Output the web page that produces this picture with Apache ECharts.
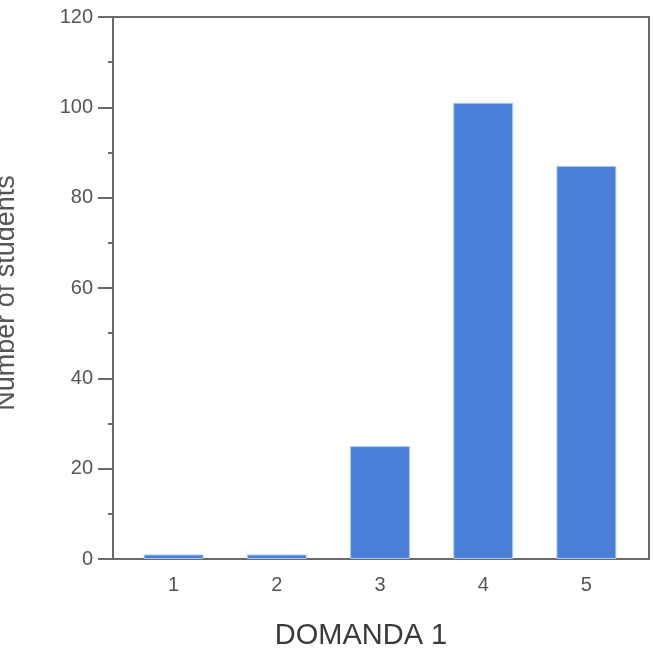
<!DOCTYPE html>
<html>
<head>
<meta charset="utf-8">
<script src="https://cdn.jsdelivr.net/npm/echarts@6/dist/echarts.min.js"></script>
<style>
  html, body { margin: 0; padding: 0; background: #fff; }
  #chart { width: 653px; height: 651px; }
</style>
</head>
<body>
<div id="chart"></div>
<script>
// categories and values
const categories = ['1', '2', '3', '4', '5']
const students = [1, 1, 25, 101, 87]
const yTicks = { min: 0, max: 120, interval: 20 }

const chart = echarts.init(document.getElementById('chart'))
chart.setOption({
  animation: false,
  textStyle: { fontFamily: 'Liberation Sans, Arial, sans-serif' },
  grid: {
    left: 122,
    right: 15,
    top: 17,
    bottom: 92,
    outerBoundsMode: 'none'
  },
  // frame round the plot (wider than the category bands)
  graphic: [
    {
      type: 'rect',
      shape: { x: 113, y: 17, width: 536, height: 542 },
      style: { fill: 'none', stroke: '#6a6a6a', lineWidth: 2 },
      silent: true
    }
  ],
  xAxis: {
    type: 'category',
    data: categories,
    name: 'DOMANDA 1',
    nameLocation: 'middle',
    nameGap: 62,
    nameTextStyle: { fontSize: 29, color: '#3a3a3a', padding: [0, 38, 0, 0] },
    axisLine: { show: false },
    axisTick: { show: false },
    axisLabel: { fontSize: 20, color: '#555', margin: 16 }
  },
  yAxis: {
    type: 'value',
    min: yTicks.min,
    max: yTicks.max,
    interval: yTicks.interval,
    offset: 9,
    name: 'Number of students',
    nameLocation: 'middle',
    nameGap: 93,
    nameTextStyle: { fontSize: 27, color: '#555', padding: [0, 10, 0, 0] },
    axisLine: { show: true, lineStyle: { color: '#6a6a6a', width: 2 } },
    axisTick: { show: true, length: 15, lineStyle: { color: '#6a6a6a', width: 2 } },
    minorTick: { show: true, splitNumber: 2, length: 5, lineStyle: { color: '#6a6a6a', width: 2 } },
    splitLine: { show: false },
    axisLabel: { fontSize: 20, color: '#555', margin: 20 }
  },
  series: [
    {
      type: 'bar',
      data: students,
      barWidth: '58%',
      itemStyle: {
        color: '#4a7fd8',
        borderColor: '#a9c5f2',
        borderWidth: 1
      }
    }
  ]
})
</script>
</body>
</html>
